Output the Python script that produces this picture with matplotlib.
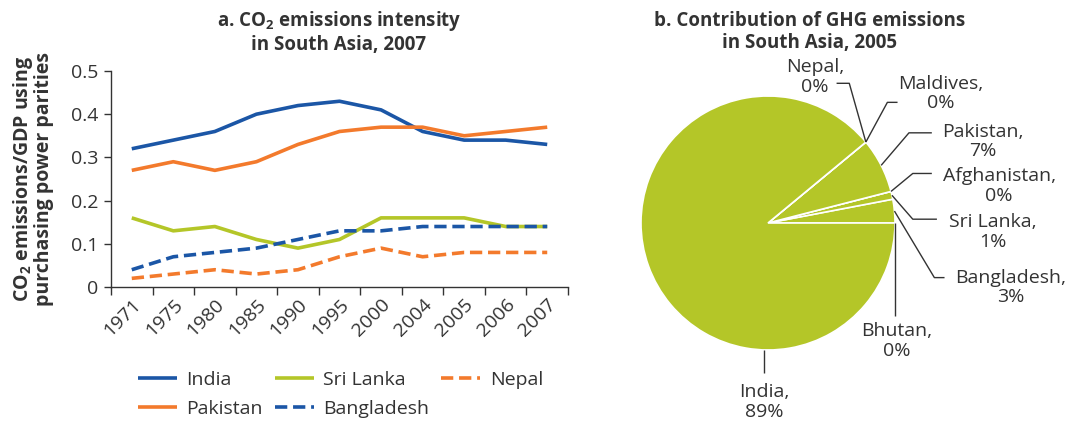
import matplotlib
matplotlib.use("Agg")
import matplotlib.pyplot as plt
import numpy as np

plt.rcParams['font.family'] = ['Open Sans', 'DejaVu Sans']
plt.rcParams['mathtext.fontset'] = 'custom'
plt.rcParams['mathtext.rm'] = 'Open Sans'
plt.rcParams['mathtext.bf'] = 'Open Sans:bold'

# ---------------- data ----------------
years = ["1971", "1975", "1980", "1985", "1990", "1995", "2000", "2004", "2005", "2006", "2007"]
india = [0.32, 0.34, 0.36, 0.40, 0.42, 0.43, 0.41, 0.36, 0.34, 0.34, 0.33]
pakistan = [0.27, 0.29, 0.27, 0.29, 0.33, 0.36, 0.37, 0.37, 0.35, 0.36, 0.37]
sri_lanka = [0.16, 0.13, 0.14, 0.11, 0.09, 0.11, 0.16, 0.16, 0.16, 0.14, 0.14]
bangladesh = [0.04, 0.07, 0.08, 0.09, 0.11, 0.13, 0.13, 0.14, 0.14, 0.14, 0.14]
nepal = [0.02, 0.03, 0.04, 0.03, 0.04, 0.07, 0.09, 0.07, 0.08, 0.08, 0.08]
yticks = [0, 0.1, 0.2, 0.3, 0.4, 0.5]
ytick_labels = ["0", "0.1", "0.2", "0.3", "0.4", "0.5"]

pie_countries = ["Bhutan", "Bangladesh", "Sri Lanka", "Afghanistan", "Pakistan", "Maldives", "Nepal", "India"]
pie_shares = [0, 3, 1, 0, 7, 0, 0, 89]

BLUE = "#1B56A6"
ORANGE = "#F37A2C"
GREEN = "#B4C628"
DARK = "#333333"
FS = 14
TFS = 13.5

fig = plt.figure(figsize=(10.7, 4.26), dpi=100)

# ---------------- panel a ----------------
ax = fig.add_axes([111/1070, 1-287/426, 457/1070, 216/426])
x = np.arange(len(years))
lw = 2.6
ax.plot(x, india, color=BLUE, lw=lw, label="India", solid_capstyle='butt')
ax.plot(x, pakistan, color=ORANGE, lw=lw, label="Pakistan", solid_capstyle='butt')
ax.plot(x, sri_lanka, color=GREEN, lw=lw, label="Sri Lanka", solid_capstyle='butt')
ax.plot(x, bangladesh, color=BLUE, lw=lw, ls=(0, (3.4, 1.6)), label="Bangladesh", dash_capstyle='butt')
ax.plot(x, nepal, color=ORANGE, lw=lw, ls=(0, (3.4, 1.6)), label="Nepal", dash_capstyle='butt')

ax.set_xlim(-0.5, len(years) - 0.5)
ax.set_ylim(0, 0.5)
ax.set_xticks(np.arange(-0.5, len(years)), labels=[])
ax.set_xticks(x, labels=years, minor=True)
ax.tick_params(axis='x', which='major', length=6, width=1, color=DARK, direction='out')
ax.tick_params(axis='x', which='minor', length=0, pad=6, labelsize=FS, labelcolor=DARK)
for lab in ax.get_xticklabels(minor=True):
    lab.set_rotation(45)
    lab.set_ha('right')
    lab.set_va('top')
    lab.set_rotation_mode('anchor')
ax.set_yticks(yticks, labels=ytick_labels)
ax.tick_params(axis='y', length=5, width=1, color=DARK, labelsize=FS, labelcolor=DARK, pad=4)
for s in ['top', 'right']:
    ax.spines[s].set_visible(False)
for s in ['left', 'bottom']:
    ax.spines[s].set_color(DARK)
    ax.spines[s].set_linewidth(1)

ax.set_ylabel("CO$_\\mathbf{2}$ emissions/GDP using\npurchasing power parities",
              fontsize=FS, fontweight='bold', color=DARK, labelpad=12, linespacing=0.95)
fig.text(339/1070, 1-32/426, "a. CO$_\\mathbf{2}$ emissions intensity\nin South Asia, 2007",
         ha='center', va='center', fontsize=TFS, fontweight='bold', color=DARK, linespacing=1.1)

h, l = ax.get_legend_handles_labels()
order = ["India", "Pakistan", "Sri Lanka", "Bangladesh", "Nepal"]
hh = [h[l.index(o)] for o in order]
fig.legend(hh, order, loc='upper left', bbox_to_anchor=(138/1070, 1-371/426), ncol=3,
           frameon=False, fontsize=FS, handlelength=2.0, handletextpad=0.5,
           columnspacing=0.6, borderpad=0, borderaxespad=0, labelspacing=0.55,
           labelcolor=DARK)

# ---------------- panel b ----------------
R = 127
axp = fig.add_axes([(768-R)/1070, (426-223-R)/426, 2*R/1070, 2*R/426])
wedges, _ = axp.pie(pie_shares, startangle=0, counterclock=True, colors=[GREEN]*len(pie_shares),
                    wedgeprops=dict(edgecolor='white', linewidth=1.2))
axp.set_xlim(-1, 1)
axp.set_ylim(-1, 1)
axp.set_aspect('equal')
axp.axis('off')

fig.text(810/1070, 1-32/426, "b. Contribution of GHG emissions\nin South Asia, 2005",
         ha='center', va='center', fontsize=TFS, fontweight='bold', color=DARK, linespacing=1.1)

def edge(name, where='mid'):
    w = wedges[pie_countries.index(name)]
    if where == 'mid':
        a = np.deg2rad((w.theta1 + w.theta2) / 2)
    elif where == 'start':
        a = np.deg2rad(w.theta1)
    else:
        a = np.deg2rad(where)
    return np.cos(a), np.sin(a)

# label: (text position, leader points from text side, edge point)
labels = {
    "Nepal":       ((0.37, 1.15),  [(0.54, 1.10), (0.64, 1.10)], edge("Nepal", 'start')),
    "Maldives":    ((1.36, 1.02),  [(1.02, 0.95), (0.94, 0.95)], edge("Maldives", 'start')),
    "Pakistan":    ((1.69, 0.64),  [(1.29, 0.71), (1.11, 0.71)], edge("Pakistan")),
    "Afghanistan": ((1.82, 0.29),  [(1.29, 0.39), (1.14, 0.39)], edge("Afghanistan", 'start')),
    "Sri Lanka":   ((1.77, -0.07), [(1.33, 0.03), (1.14, 0.03)], edge("Sri Lanka")),
    "Bangladesh":  ((1.91, -0.51), [(1.39, -0.43), (1.31, -0.43)], edge("Bangladesh")),
    "Bhutan":      ((1.01, -0.93), [(1.0, -0.73)], edge("Bhutan", 'start')),
    "India":       ((-0.03, -1.41), [(-0.03, -1.18)], (-0.03, -1.0)),
}
for name, (tpos, pts, ep) in labels.items():
    share = pie_shares[pie_countries.index(name)]
    axp.text(tpos[0], tpos[1], f"{name},\n{share}%", ha='center', va='center', fontsize=FS,
             color=DARK, linespacing=1.1, clip_on=False)
    xs = [p[0] for p in pts] + [ep[0]]
    ys = [p[1] for p in pts] + [ep[1]]
    axp.plot(xs, ys, color=DARK, lw=1, clip_on=False, solid_capstyle='butt')

fig.savefig("out.png", dpi=100)
